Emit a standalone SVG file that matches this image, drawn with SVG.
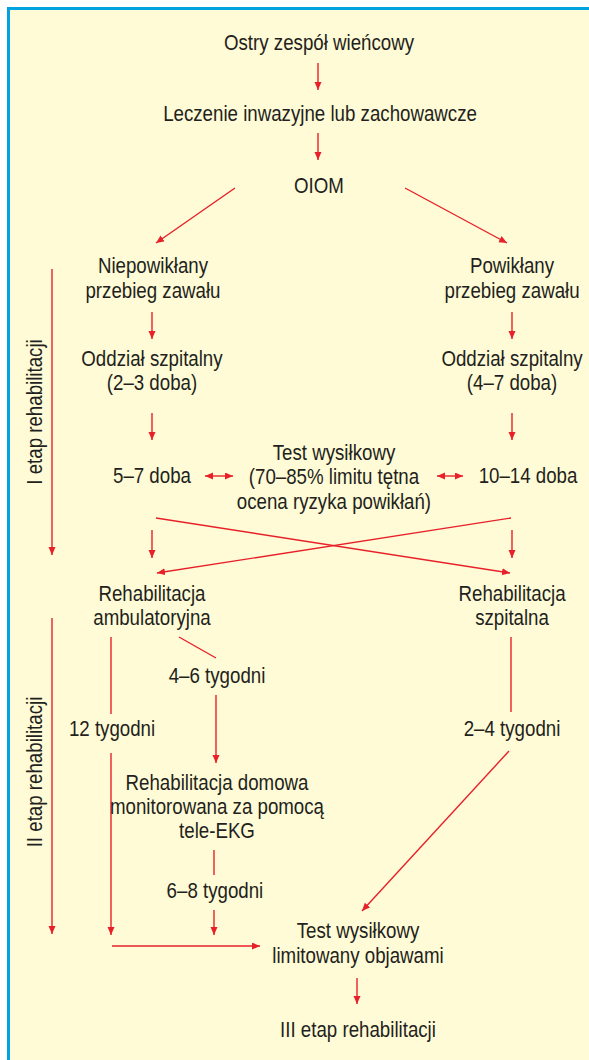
<svg xmlns="http://www.w3.org/2000/svg" width="589" height="1060" viewBox="0 0 589 1060">
<style>
.t{font-family:"Liberation Sans",Arial,sans-serif;font-size:22px;fill:#231f20;text-anchor:middle}
.c line{stroke:#e8202a;stroke-width:1.4;fill:none}
.a{marker-end:url(#ah)}
.d{marker-start:url(#ah);marker-end:url(#ah)}
</style>
<defs>
<marker id="ah" markerUnits="userSpaceOnUse" markerWidth="9" markerHeight="8" refX="8" refY="3.5" orient="auto-start-reverse">
<path d="M0,0 L8,3.5 L0,7 z" fill="#e8202a"/>
</marker>
</defs>
<rect x="8.5" y="8.5" width="600" height="1070" fill="#fffbd6" stroke="#00a3e0" stroke-width="3"/>
<g class="c" id="connectors">
<line class="a" x1="318" y1="63" x2="318" y2="90"/>
<line class="a" x1="318" y1="133" x2="318" y2="160"/>
<line class="a" x1="235" y1="188" x2="156" y2="243"/>
<line class="a" x1="405" y1="188" x2="507" y2="243"/>
<line class="a" x1="152" y1="312" x2="152" y2="339"/>
<line class="a" x1="512" y1="312" x2="512" y2="339"/>
<line class="a" x1="152" y1="413" x2="152" y2="440"/>
<line class="a" x1="512" y1="413" x2="512" y2="440"/>
<line class="d" x1="205" y1="476" x2="233" y2="476"/>
<line class="d" x1="437" y1="476" x2="463" y2="476"/>
<line class="a" x1="156" y1="518" x2="510" y2="573"/>
<line class="a" x1="511" y1="518" x2="157" y2="573"/>
<line class="a" x1="152" y1="530" x2="152" y2="558"/>
<line class="a" x1="512" y1="530" x2="512" y2="558"/>
<line class="a" x1="52" y1="269" x2="52" y2="555"/>
<line class="a" x1="52" y1="618" x2="52" y2="934"/>
<line x1="111" y1="637" x2="111" y2="714"/>
<line class="a" x1="111" y1="753" x2="111" y2="935"/>
<line x1="179" y1="637" x2="216" y2="658"/>
<line class="a" x1="216" y1="695" x2="216" y2="763"/>
<line x1="214" y1="850" x2="214" y2="875"/>
<line class="a" x1="214" y1="910" x2="214" y2="935"/>
<line class="a" x1="112" y1="946" x2="260" y2="946"/>
<line x1="511" y1="637" x2="511" y2="712"/>
<line class="a" x1="509" y1="751" x2="362" y2="911"/>
<line class="a" x1="357" y1="978" x2="357" y2="1004"/>
</g>
<g transform="scale(0.85,1)">
<g id="n1"><text class="t" x="375.3" y="50">Ostry zespół wieńcowy</text></g>
<g id="n2"><text class="t" x="376.5" y="121">Leczenie inwazyjne lub zachowawcze</text></g>
<g id="n3"><text class="t" x="375.3" y="193">OIOM</text></g>
<g id="n4"><text class="t" x="180" y="273">Niepowikłany</text><text class="t" x="180" y="298">przebieg zawału</text></g>
<g id="n5"><text class="t" x="602.4" y="273">Powikłany</text><text class="t" x="602.4" y="298">przebieg zawału</text></g>
<g id="n6"><text class="t" x="178.8" y="366">Oddział szpitalny</text><text class="t" x="178.8" y="390">(2–3 doba)</text></g>
<g id="n7"><text class="t" x="602.4" y="366">Oddział szpitalny</text><text class="t" x="602.4" y="390">(4–7 doba)</text></g>
<g id="n8"><text class="t" x="178.8" y="483">5–7 doba</text></g>
<g id="n9"><text class="t" x="392.9" y="460">Test wysiłkowy</text><text class="t" x="392.9" y="484">(70–85% limitu tętna</text><text class="t" x="392.9" y="509">ocena ryzyka powikłań)</text></g>
<g id="n10"><text class="t" x="621.2" y="483">10–14 doba</text></g>
<g id="n11"><text class="t" x="178.8" y="601">Rehabilitacja</text><text class="t" x="178.8" y="625">ambulatoryjna</text></g>
<g id="n12"><text class="t" x="602.4" y="601">Rehabilitacja</text><text class="t" x="602.4" y="625">szpitalna</text></g>
<g id="n13"><text class="t" x="255.3" y="683">4–6 tygodni</text></g>
<g id="n14"><text class="t" x="131.8" y="736">12 tygodni</text></g>
<g id="n15"><text class="t" x="602.4" y="736">2–4 tygodni</text></g>
<g id="n16"><text class="t" x="255.3" y="790">Rehabilitacja domowa</text><text class="t" x="255.3" y="814">monitorowana za pomocą</text><text class="t" x="255.3" y="838">tele-EKG</text></g>
<g id="n17"><text class="t" x="252.9" y="898">6–8 tygodni</text></g>
<g id="n18"><text class="t" x="421.2" y="938">Test wysiłkowy</text><text class="t" x="421.2" y="963">limitowany objawami</text></g>
<g id="n19"><text class="t" x="421.2" y="1037">III etap rehabilitacji</text></g>
</g>
<g id="l1"><text class="t" transform="translate(42,412) rotate(-90) scale(0.85,1)">I etap rehabilitacji</text></g>
<g id="l2"><text class="t" transform="translate(42,772) rotate(-90) scale(0.85,1)">II etap rehabilitacji</text></g>
</svg>
